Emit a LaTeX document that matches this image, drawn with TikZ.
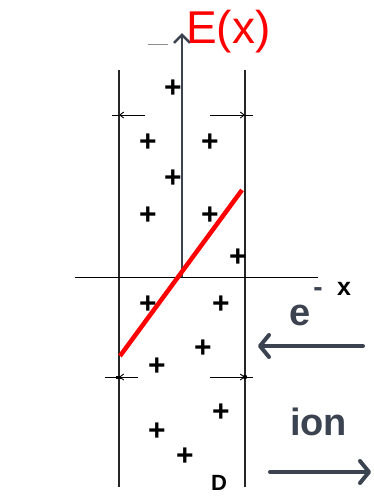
\documentclass[tikz,border=0pt]{standalone}
\usepackage{fontspec}
\setmainfont{Liberation Sans}
\usetikzlibrary{arrows.meta}
\definecolor{slate}{HTML}{3C4350}
\definecolor{exred}{HTML}{FF0000}
\begin{document}
\begin{tikzpicture}[x=1pt,y=-1pt,
  plussign/.style={font=\fontsize{30}{30}\selectfont\bfseries, inner sep=0pt, text=black},
  wall/.style={line width=1.3pt, draw=black!85},
  axisline/.style={line width=1pt, draw=black},
  dimline/.style={line width=0.9pt, draw=black, -{Straight Barb[length=4pt,width=6pt]}},
  bigarrow/.style={line width=4pt, draw=slate, line cap=round, -{Straight Barb[length=9pt,width=22pt,line cap=round,line join=round]}},
  lbl/.style={inner sep=0pt, text=slate, font=\fontsize{38}{38}\selectfont\bfseries}
]
\useasboundingbox (0,0) rectangle (373,496);
% walls
\coordinate (lwt) at (119,70); \coordinate (lwb) at (119,487);
\coordinate (rwt) at (245,70); \coordinate (rwb) at (245,487);
\draw[wall] (lwt) -- (lwb);
\draw[wall] (rwt) -- (rwb);
% x axis
\coordinate (xa) at (75,277); \coordinate (xb) at (318,277);
\draw[axisline] (xa) -- (xb);
\node[inner sep=0pt, anchor=base west, font=\fontsize{25}{25}\selectfont\bfseries] (xlbl) at (337,295) {x};
% E axis
\coordinate (eo) at (182,277); \coordinate (et) at (182,33);
\draw[line width=2.5pt, draw=slate, -{Straight Barb[length=8pt,width=16pt]}] (eo) -- (et);
\coordinate (ga) at (148,44); \coordinate (gb) at (168,44);
\draw[line width=0.8pt, draw=black!45] (ga) -- (gb);
\node[inner sep=0pt, anchor=base west, text=exred, font=\fontsize{46}{46}\selectfont] (elbl) at (186,43) {E(x)};
% dimension marks top
\coordinate (dtl1) at (145,115); \coordinate (dtl2) at (119,115); \coordinate (dtl3) at (112,115);
\coordinate (dtr1) at (210,115); \coordinate (dtr2) at (245,115); \coordinate (dtr3) at (253,115);
\draw[dimline] (dtl1) -- (dtl2); \draw[line width=0.9pt] (dtl2) -- (dtl3);
\draw[dimline] (dtr1) -- (dtr2); \draw[line width=0.9pt] (dtr2) -- (dtr3);
% dimension marks bottom
\coordinate (dbl1) at (138,377); \coordinate (dbl2) at (119,377); \coordinate (dbl3) at (105,377);
\coordinate (dbr1) at (210,377); \coordinate (dbr2) at (245,377); \coordinate (dbr3) at (253,377);
\draw[dimline] (dbl1) -- (dbl2); \draw[line width=0.9pt] (dbl2) -- (dbl3);
\fill (dbl2) ++(-3,-1.5) rectangle ++(5,3);
\draw[dimline] (dbr1) -- (dbr2); \draw[line width=0.9pt] (dbr2) -- (dbr3);
\fill (dbr2) circle (2.2pt);
% plus signs
\node[plussign] (p1) at (173,89) {+};
\node[plussign] (p2) at (148,143) {+};
\node[plussign] (p3) at (210,143) {+};
\node[plussign] (p4) at (173,179) {+};
\node[plussign] (p5) at (148,216) {+};
\node[plussign] (p6) at (210,216) {+};
\node[plussign] (p7) at (238,258) {+};
\node[plussign] (p8) at (148,305) {+};
\node[plussign] (p9) at (221,305) {+};
\node[plussign] (p10) at (203,349) {+};
\node[plussign] (p11) at (157,367) {+};
\node[plussign] (p12) at (221,413) {+};
\node[plussign] (p13) at (157,432) {+};
\node[plussign] (p14) at (185,457) {+};
\node[inner sep=0pt, anchor=base west, font=\fontsize{22}{22}\selectfont\bfseries] (dlbl) at (211,490) {D};
% red field line
\coordinate (ra) at (120,356); \coordinate (rb) at (242,190);
\draw[line width=4.5pt, draw=exred] (ra) -- (rb);
% electron
\node[lbl, anchor=base west] (elec) at (289,325) {e};
\node[lbl, anchor=center, font=\fontsize{28}{28}\selectfont\bfseries] (eminus) at (318,292) {-};
\coordinate (ea) at (363,346); \coordinate (eb) at (258,346);
\draw[bigarrow] (ea) -- (eb);
% ion
\node[lbl, anchor=base west] (ion) at (290,435) {ion};
\coordinate (ia) at (270,472); \coordinate (ib) at (371,472);
\draw[bigarrow] (ia) -- (ib);
\end{tikzpicture}
\end{document}
